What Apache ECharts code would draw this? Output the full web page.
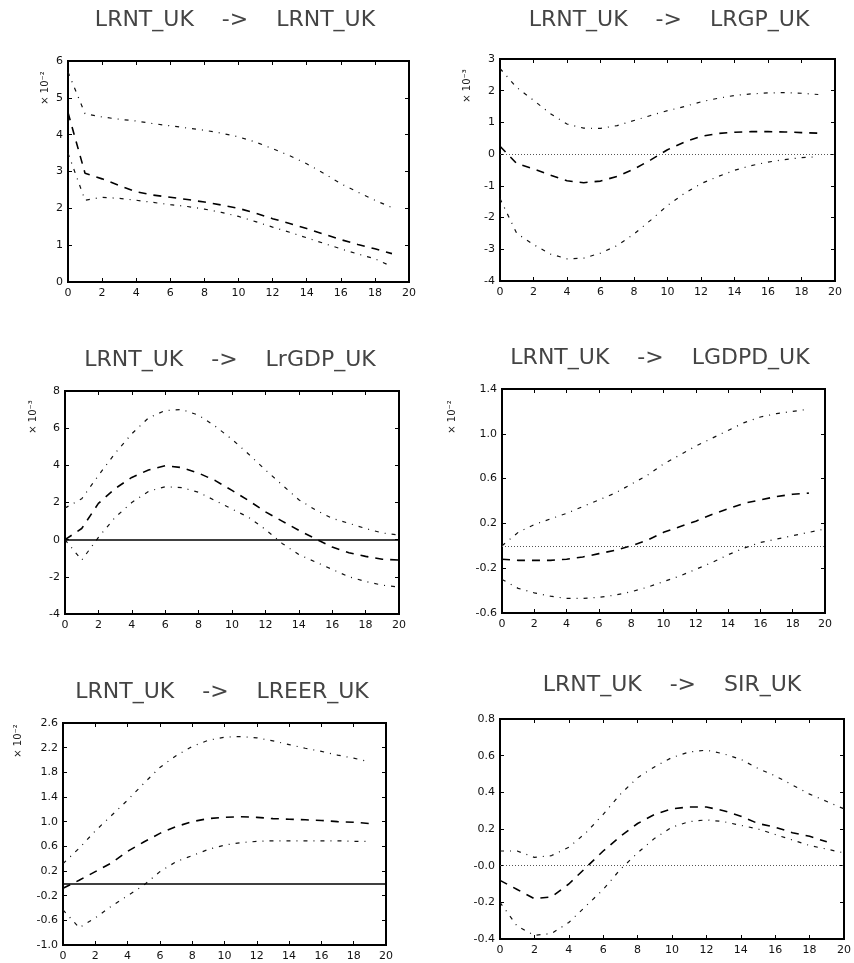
<!DOCTYPE html>
<html>
<head>
<meta charset="utf-8">
<script src="https://cdn.jsdelivr.net/npm/echarts@6/dist/echarts.min.js"></script>
<style>
  html, body { margin: 0; padding: 0; background: #fff; }
  #chart { width: 854px; height: 963px; }
</style>
</head>
<body>
<div id="chart"></div>
<script>
// impulse responses of LRNT_UK, horizon 0..20 (upper band, response, lower band)
const horizon = [0, 1, 2, 3, 4, 5, 6, 7, 8, 9, 10, 11, 12, 13, 14, 15, 16, 17, 18, 19, 20];

const titles = [
    'LRNT_UK    ->    LRNT_UK',
    'LRNT_UK    ->    LRGP_UK',
    'LRNT_UK    ->    LrGDP_UK',
    'LRNT_UK    ->    LGDPD_UK',
    'LRNT_UK    ->    LREER_UK',
    'LRNT_UK    ->    SIR_UK'
];
const units = ['× 10⁻²', '× 10⁻³', '× 10⁻³', '× 10⁻²', '× 10⁻²', ''];

// y axis ranges: [min, max, step]
const yRanges = [[0, 6, 1], [-4, 3, 1], [-4, 8, 2], [-0.6, 1.4, 0.4], [-1.0, 2.6, 0.4], [-0.4, 0.8, 0.2]];
const yDecimals = [0, 0, 0, 1, 1, 1];
// 'none' | 'dotted' | 'solid'
const zeroLines = ['none', 'dotted', 'solid', 'dotted', 'solid', 'dotted'];

const up1 = [5.7, 4.57, 4.48, 4.42, 4.37, 4.3, 4.24, 4.18, 4.12, 4.04, 3.94, 3.8, 3.62, 3.43, 3.21, 2.95, 2.67, 2.44, 2.22, 2.02];
const mid1 = [4.6, 2.95, 2.8, 2.62, 2.45, 2.36, 2.3, 2.24, 2.17, 2.09, 2.0, 1.87, 1.72, 1.59, 1.45, 1.3, 1.15, 1.02, 0.9, 0.77];
const low1 = [3.5, 2.22, 2.3, 2.27, 2.22, 2.16, 2.1, 2.05, 1.98, 1.89, 1.78, 1.64, 1.49, 1.35, 1.2, 1.05, 0.9, 0.76, 0.63, 0.42];

const up2 = [2.7, 2.1, 1.7, 1.28, 0.95, 0.82, 0.81, 0.9, 1.06, 1.22, 1.37, 1.5, 1.65, 1.76, 1.85, 1.9, 1.93, 1.94, 1.92, 1.88];
const mid2 = [0.25, -0.3, -0.46, -0.66, -0.84, -0.9, -0.85, -0.7, -0.47, -0.18, 0.14, 0.38, 0.56, 0.65, 0.69, 0.71, 0.71, 0.7, 0.68, 0.66];
const low2 = [-1.4, -2.5, -2.85, -3.15, -3.3, -3.28, -3.12, -2.88, -2.52, -2.08, -1.62, -1.24, -0.93, -0.71, -0.51, -0.36, -0.25, -0.17, -0.11, -0.08];

const up3 = [1.7, 2.2, 3.45, 4.65, 5.7, 6.55, 6.95, 7.0, 6.7, 6.1, 5.4, 4.6, 3.75, 2.95, 2.15, 1.6, 1.15, 0.88, 0.6, 0.36, 0.25];
const mid3 = [0.0, 0.6, 1.95, 2.75, 3.35, 3.75, 3.98, 3.88, 3.58, 3.18, 2.65, 2.1, 1.5, 1.0, 0.5, 0.05, -0.4, -0.7, -0.9, -1.05, -1.1];
const low3 = [0.0, -1.1, 0.12, 1.2, 2.0, 2.6, 2.85, 2.8, 2.55, 2.1, 1.65, 1.2, 0.55, -0.2, -0.8, -1.2, -1.6, -2.0, -2.25, -2.45, -2.55];

const up4 = [0.0, 0.12, 0.19, 0.24, 0.29, 0.35, 0.41, 0.47, 0.55, 0.63, 0.73, 0.81, 0.89, 0.96, 1.03, 1.1, 1.15, 1.18, 1.2, 1.22];
const mid4 = [-0.12, -0.13, -0.13, -0.13, -0.12, -0.1, -0.07, -0.04, 0.0, 0.05, 0.12, 0.17, 0.22, 0.28, 0.33, 0.38, 0.41, 0.44, 0.46, 0.47];
const low4 = [-0.3, -0.38, -0.42, -0.45, -0.47, -0.47, -0.46, -0.44, -0.41, -0.37, -0.32, -0.27, -0.21, -0.15, -0.08, -0.02, 0.03, 0.06, 0.09, 0.12, 0.15];

const up5 = [0.32, 0.57, 0.85, 1.1, 1.35, 1.62, 1.88, 2.07, 2.22, 2.32, 2.37, 2.38, 2.36, 2.31, 2.25, 2.19, 2.14, 2.08, 2.03, 1.97];
const mid5 = [-0.08, 0.05, 0.19, 0.33, 0.52, 0.67, 0.81, 0.92, 1.0, 1.05, 1.07, 1.08, 1.07, 1.05, 1.04, 1.03, 1.02, 1.0, 0.99, 0.97];
const low5 = [-0.43, -0.72, -0.56, -0.37, -0.2, -0.03, 0.19, 0.35, 0.45, 0.55, 0.62, 0.66, 0.68, 0.69, 0.69, 0.69, 0.69, 0.69, 0.68, 0.68];

const up6 = [0.08, 0.08, 0.045, 0.055, 0.1, 0.18, 0.28, 0.39, 0.48, 0.54, 0.59, 0.62, 0.63, 0.61, 0.58, 0.53, 0.49, 0.44, 0.39, 0.35, 0.31];
const mid6 = [-0.08, -0.13, -0.18, -0.17, -0.1, -0.01, 0.08, 0.16, 0.23, 0.28, 0.31, 0.32, 0.32, 0.3, 0.27, 0.23, 0.21, 0.18, 0.16, 0.13];
const low6 = [-0.2, -0.33, -0.38, -0.37, -0.31, -0.22, -0.13, -0.02, 0.07, 0.15, 0.21, 0.24, 0.25, 0.24, 0.22, 0.2, 0.17, 0.14, 0.11, 0.09, 0.07];

const panels = [
    [up1, mid1, low1], [up2, mid2, low2], [up3, mid3, low3],
    [up4, mid4, low4], [up5, mid5, low5], [up6, mid6, low6]
];

// layout of each panel box (pixels)
const boxes = [
    { left: 68, top: 61, width: 341, height: 221 },
    { left: 500, top: 59, width: 335, height: 222 },
    { left: 65, top: 391, width: 334, height: 223 },
    { left: 502, top: 389, width: 323, height: 224 },
    { left: 63, top: 723, width: 323, height: 222 },
    { left: 500, top: 719, width: 344, height: 220 }
];
const titlePos = [[235, 20], [669, 20], [230, 360], [660, 358], [222, 692], [672, 685]];
const unitPos = [[45, 88], [467, 86], [33, 417], [452, 417], [18, 741], [0, 0]];

const font = 'DejaVu Sans';
const toPairs = arr => arr.map((v, i) => [horizon[i], v]);

const chart = echarts.init(document.getElementById('chart'), null, { renderer: 'canvas' });

const grid = [], xAxis = [], yAxis = [], series = [], graphic = [];

const frameLine = { show: true, onZero: false, lineStyle: { color: '#000', width: 2 } };
const innerTick = { show: true, inside: true, length: 4, lineStyle: { color: '#000' } };

boxes.forEach(function (b, p) {
    grid.push(Object.assign({ show: true, borderColor: '#000', borderWidth: 2, containLabel: false }, b));
    const [ymin, ymax, ystep] = yRanges[p];
    const dec = yDecimals[p];

    // bottom and top x axes
    xAxis.push({
        type: 'value', gridIndex: p, min: 0, max: 20, interval: 2, position: 'bottom',
        axisLine: frameLine, axisTick: innerTick,
        axisLabel: { color: '#111', fontFamily: font, fontSize: 11, margin: 6 },
        splitLine: { show: false }
    });
    xAxis.push({
        type: 'value', gridIndex: p, min: 0, max: 20, interval: 2, position: 'top',
        axisLine: frameLine, axisTick: innerTick,
        axisLabel: { show: false }, splitLine: { show: false }
    });
    // left and right y axes
    yAxis.push({
        type: 'value', gridIndex: p, min: ymin, max: ymax, interval: ystep, position: 'left',
        axisLine: frameLine, axisTick: innerTick,
        axisLabel: {
            color: '#111', fontFamily: font, fontSize: 11, margin: 5,
            formatter: function (v) {
                if (p === 5 && Math.abs(v) < 1e-9) return '-0.0';
                return (Math.abs(v) < 1e-9 ? 0 : v).toFixed(dec);
            }
        },
        splitLine: { show: false }
    });
    yAxis.push({
        type: 'value', gridIndex: p, min: ymin, max: ymax, interval: ystep, position: 'right',
        axisLine: frameLine, axisTick: innerTick,
        axisLabel: { show: false }, splitLine: { show: false }
    });

    const [up, mid, low] = panels[p];
    const band = { color: '#111', width: 1.2, type: [4, 6, 1, 6] };
    const zl = zeroLines[p];

    series.push({
        type: 'line', xAxisIndex: 2 * p, yAxisIndex: 2 * p, data: toPairs(mid),
        showSymbol: false, silent: true, animation: false,
        lineStyle: { color: '#000', width: 1.6, type: [8, 7] },
        markLine: zl === 'none' ? undefined : {
            silent: true, symbol: 'none', animation: false, label: { show: false },
            lineStyle: zl === 'solid'
                ? { color: '#000', width: 1.5, type: 'solid' }
                : { color: '#555', width: 1, type: [1, 2] },
            data: [{ yAxis: 0 }]
        }
    });
    series.push({
        type: 'line', xAxisIndex: 2 * p, yAxisIndex: 2 * p, data: toPairs(up),
        showSymbol: false, silent: true, animation: false, lineStyle: band
    });
    series.push({
        type: 'line', xAxisIndex: 2 * p, yAxisIndex: 2 * p, data: toPairs(low),
        showSymbol: false, silent: true, animation: false, lineStyle: band
    });

    graphic.push({
        type: 'text', x: titlePos[p][0], y: titlePos[p][1],
        style: {
            text: titles[p], fill: '#444', font: '22px "' + font + '"',
            textAlign: 'center', textVerticalAlign: 'middle'
        }
    });
    if (units[p]) {
        graphic.push({
            type: 'text', x: unitPos[p][0], y: unitPos[p][1], rotation: Math.PI / 2,
            style: {
                text: units[p], fill: '#222', font: '10px "' + font + '"',
                textAlign: 'center', textVerticalAlign: 'middle'
            }
        });
    }
});

chart.setOption({
    backgroundColor: '#fff',
    animation: false,
    grid: grid,
    xAxis: xAxis,
    yAxis: yAxis,
    series: series,
    graphic: graphic
});
</script>
</body>
</html>
